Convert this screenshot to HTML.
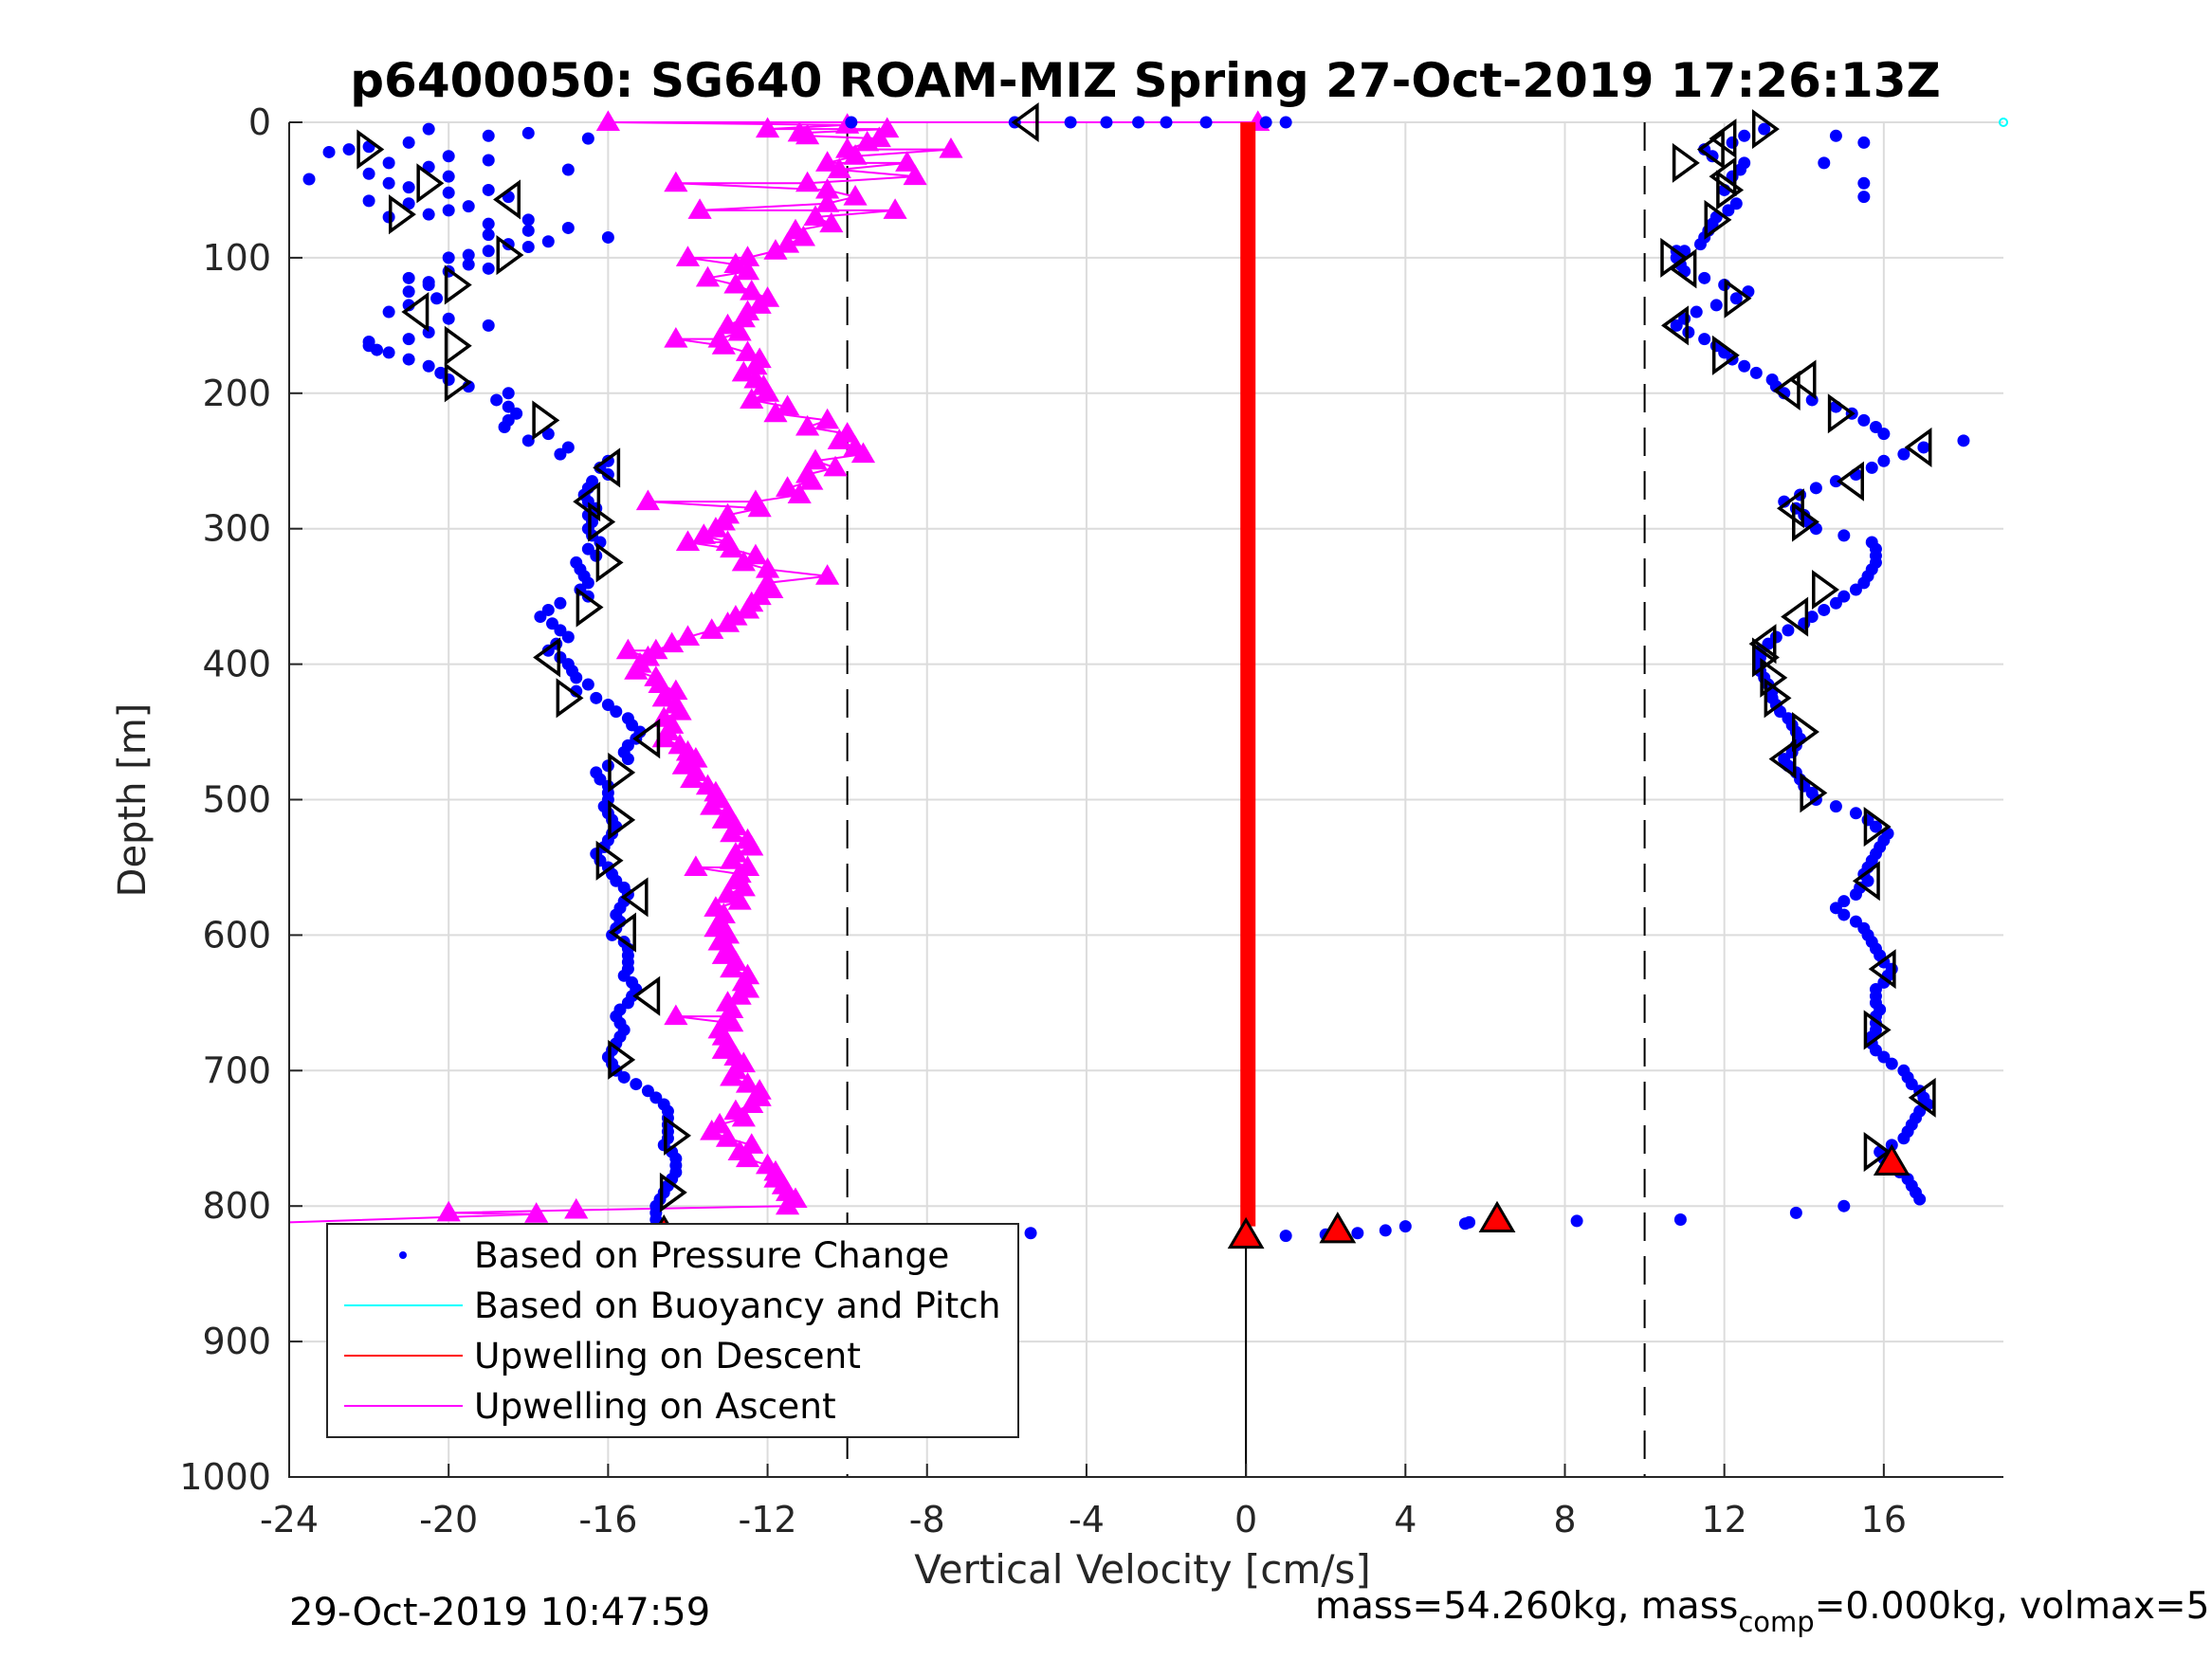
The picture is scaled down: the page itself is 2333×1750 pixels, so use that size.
<!DOCTYPE html>
<html><head><meta charset="utf-8"><style>
html,body{margin:0;padding:0;background:#fff;}
svg{display:block;font-family:"DejaVu Sans","Liberation Sans",sans-serif;}
</style></head><body>
<svg id="chart" width="2333" height="1750" viewBox="0 0 2333 1750" xmlns="http://www.w3.org/2000/svg">
<rect width="2333" height="1750" fill="#fff"/>
<g id="grid"></g>
<g id="marks"></g>
<g id="axes"></g>
<text x="1208" y="102" text-anchor="middle" font-size="50" font-weight="bold" fill="#000">p6400050: SG640 ROAM-MIZ Spring 27-Oct-2019 17:26:13Z</text>
<text x="1205" y="1670" text-anchor="middle" font-size="42" fill="#262626">Vertical Velocity [cm/s]</text>
<text x="0" y="0" transform="translate(153,844) rotate(-90)" text-anchor="middle" font-size="40" fill="#262626">Depth [m]</text>
<text x="305" y="1714" font-size="40" fill="#000">29-Oct-2019 10:47:59</text>
<text x="1387" y="1707" font-size="39" fill="#000">mass=54.260kg, mass<tspan font-size="29" dy="14">comp</tspan><tspan dy="-14">=0.000kg, volmax=52842cc</tspan></text>
<g id="legend">
<rect x="345" y="1291" width="729" height="225" fill="#fff" stroke="#262626" stroke-width="2"/>
<circle cx="425" cy="1324" r="4" fill="#0000ff"/>
<text x="500" y="1337" font-size="37.5" fill="#000">Based on Pressure Change</text>
<line x1="363" y1="1377" x2="488" y2="1377" stroke="#00ffff" stroke-width="2"/>
<text x="500" y="1390" font-size="37.5" fill="#000">Based on Buoyancy and Pitch</text>
<line x1="363" y1="1430" x2="488" y2="1430" stroke="#ff0000" stroke-width="2"/>
<text x="500" y="1443" font-size="37.5" fill="#000">Upwelling on Descent</text>
<line x1="363" y1="1483" x2="488" y2="1483" stroke="#ff00ff" stroke-width="2"/>
<text x="500" y="1496" font-size="37.5" fill="#000">Upwelling on Ascent</text>
</g>
</svg>
<script>
// ---- data ----
const xTicks = [-24,-20,-16,-12,-8,-4,0,4,8,12,16];
const yTicks = [0,100,200,300,400,500,600,700,800,900,1000];
const diveDepth = [0,0,0,0,0,0,0,0,0,5,10,15,20,25,30,35,40,45,50,55,60,65,70,75,80,85,90,95,100,105,110,115,120,130,140,150,160,165,170,180,190,200,210,220,230,240,250,260,270,280,290,300,310,320,330,340,350,360,370,380,390,400,410,420,430,440,450,460,470,480,490,500,510,520,530,540,550,560,570,580,590,600,610,620,630,640,650,660,670,680,690,700,710,720,730,740,750,760,770,780,790,800,810,815,820,820];
const diveVel = [-9.9,-5.8,-4.4,-3.5,-2.7,-2.0,-1.0,0.5,1.0,-20.5,-19,-21,-22.5,-20,-21.5,-17,-20,-21.5,-19,-18.5,-21,-20,-21.5,-19,-18,-16,-18.5,-19,-20,-19.5,-20,-21,-20.5,-20.3,-21.5,-19,-21,-22,-21.5,-20.5,-20,-18.5,-18.5,-18.5,-17.5,-17,-16,-16,-16.5,-16.5,-16.5,-16.5,-16.2,-16.3,-16.7,-16.5,-16.5,-17.5,-17.4,-17,-17.5,-17,-16.8,-16.8,-16,-15.5,-15.2,-15.5,-15.5,-16.3,-16,-16,-16,-15.8,-16,-16.3,-16,-15.8,-15.5,-15.7,-15.7,-15.9,-15.5,-15.5,-15.6,-15.3,-15.5,-15.8,-15.6,-15.8,-16,-15.8,-15.3,-14.8,-14.5,-14.5,-14.5,-14.4,-14.3,-14.4,-14.6,-14.8,-14.8,-14.6,-11.9,-5.4];
const diveExtraDepth = [8,12,18,22,28,33,38,42,48,52,58,62,68,72,78,83,88,92,98,108,118,125,135,145,155,162,168,175,185,195,205,215,225,235,245,255,265,275,285,295,305,315,325,335,345,355,365,375,385,395,405,415,425,435,445,455,465,475,485,495,505,515,525,535,545,555,565,575,585,595,605,615,625,635,645,655,665,675,685,695,705,715,725,735,745,755,765,775,785,795,805];
const diveExtraVel = [-18,-16.5,-22,-23,-19,-20.5,-22,-23.5,-21,-20,-22,-19.5,-20.5,-18,-17,-19,-17.5,-18,-19.5,-19,-20.5,-21,-21,-20,-20.5,-22,-21.8,-21,-20.2,-19.5,-18.8,-18.3,-18.6,-18,-17.2,-16.2,-16.4,-16.6,-16.3,-16.4,-16.4,-16.5,-16.8,-16.6,-16.7,-17.2,-17.7,-17.2,-17.3,-17.2,-16.9,-16.5,-16.3,-15.8,-15.4,-15.3,-15.6,-16,-16.2,-16,-16.1,-15.9,-15.9,-16.1,-16.2,-15.9,-15.6,-15.6,-15.8,-15.8,-15.6,-15.5,-15.5,-15.4,-15.4,-15.7,-15.7,-15.7,-15.9,-15.9,-15.6,-15,-14.6,-14.5,-14.5,-14.6,-14.3,-14.3,-14.5,-14.7,-14.8];
const climbDepth = [822,821,820,818,815,813,812,810,811,810,805,800,790,780,770,760,750,740,730,720,710,700,690,680,670,660,650,640,630,620,610,600,590,580,570,560,550,540,530,520,510,500,490,480,470,460,450,440,430,420,410,400,390,380,370,360,350,340,330,320,310,300,290,280,270,260,250,240,235,230,220,210,200,190,180,170,160,150,140,130,120,110,100,95,90,80,70,60,50,40,30,20,10,5,10,15,30,45,55,95];
const climbVel = [1.0,2.0,2.8,3.5,4.0,5.5,5.6,6.3,8.3,10.9,13.8,15,16.8,16.6,16.2,15.9,16.5,16.7,16.9,17,16.7,16.5,16,15.7,15.8,15.8,15.8,15.8,16.1,16,15.8,15.6,15.3,14.8,15.3,15.6,15.6,15.8,16,15.8,15.3,14.3,14,13.8,13.5,13.8,13.8,13.6,13.3,13.2,13,12.9,12.9,13.3,14,14.5,15,15.5,15.7,15.8,15.7,14.3,14,13.5,14.3,15.3,16,17,18,16,15.5,14.8,13.5,13.2,12.5,12,11.5,10.8,11.3,12.3,12,11,10.8,11,11.4,11.6,11.8,12.3,12,12.2,12.5,11.5,12.5,13,14.8,15.5,14.5,15.5,15.5,10.8];
const climbExtraDepth = [795,785,775,765,755,745,735,725,715,705,695,685,675,665,655,645,635,625,615,605,595,585,575,565,555,545,535,525,515,505,495,485,475,465,455,445,435,425,415,405,395,385,375,365,355,345,335,325,315,305,295,285,275,265,255,245,225,215,205,195,185,175,165,155,145,135,125,115,105,85,75,65,35,25,15];
const climbExtraVel = [16.9,16.7,16.4,16,16.2,16.6,16.8,17.1,16.9,16.6,16.2,15.8,15.7,15.8,15.9,15.8,16,16.2,15.9,15.7,15.5,15,15,15.4,15.5,15.7,15.9,16.1,15.6,14.8,14.2,13.9,13.6,13.7,13.9,13.7,13.4,13.2,13.1,12.9,12.9,13.1,13.6,14.2,14.8,15.3,15.6,15.8,15.8,15,14.1,13.8,13.9,14.8,15.7,16.5,15.8,15.2,14.2,13.3,12.8,12.2,11.8,11.1,11,11.8,12.6,11.5,10.9,11.5,11.7,12.1,12.4,11.7,12.2];
const ascDepth = [812,806,805,803,800,790,780,770,760,750,740,730,720,710,700,690,680,670,660,660,650,640,630,620,610,600,590,580,570,560,550,550,540,530,520,510,500,490,480,470,460,450,440,430,420,410,400,390,390,380,370,360,350,340,335,330,320,310,310,300,290,280,280,270,260,250,240,230,220,210,200,190,180,170,160,160,150,140,130,120,115,110,100,100,90,80,70,65,65,60,55,50,45,45,40,30,30,20,20,15,10,5,5,2,0,0];
const ascVel = [-24,-17.8,-20,-16.8,-11.5,-11.5,-11.8,-12,-12.7,-13,-13.2,-12.8,-12.2,-12.5,-12.8,-12.8,-13,-13.2,-14.3,-13,-13,-12.5,-12.5,-12.8,-13,-13,-13.2,-13.3,-13,-12.8,-13.8,-12.5,-12.8,-12.5,-12.8,-13,-13.2,-13.5,-13.8,-13.8,-14.2,-14.5,-14.6,-14.3,-14.3,-14.8,-15.2,-15.5,-14.8,-14,-13,-12.5,-12.2,-12,-10.5,-12,-12.3,-14,-13,-13.3,-13,-15,-12.3,-11.5,-11,-10.8,-9.8,-10,-10.5,-11.5,-12,-12.3,-12.3,-12.5,-14.3,-13.2,-13,-12.5,-12,-12.8,-13.5,-12.5,-14,-12.5,-11.5,-11.3,-10.8,-8.8,-13.7,-10.5,-9.8,-10.5,-14.3,-11,-8.3,-8.5,-10.5,-7.4,-10,-9.5,-11,-9,-12,-10,-16,0.3];
const ascExtraDepth = [795,785,775,765,755,745,735,725,715,705,695,685,675,665,655,645,635,625,615,605,595,585,575,565,555,545,535,525,515,505,495,485,475,465,455,445,435,425,415,405,395,385,375,365,355,345,325,315,305,295,285,275,265,255,245,235,225,215,205,195,185,175,165,155,145,135,125,105,95,85,75,35,25,12,8];
const ascExtraVel = [-11.3,-11.6,-11.8,-12.5,-12.4,-13.4,-12.6,-12.4,-12.2,-12.9,-12.6,-13.1,-13.1,-12.9,-12.9,-12.7,-12.6,-12.9,-13.1,-13.2,-13.3,-13.1,-12.7,-12.6,-12.7,-12.9,-12.4,-12.9,-13.1,-13.4,-13.3,-13.9,-14.1,-14,-14.6,-14.4,-14.2,-14.6,-14.7,-15.3,-15,-14.4,-13.4,-12.8,-12.4,-11.9,-12.6,-12.9,-13.6,-13.1,-12.2,-11.2,-10.9,-10.3,-9.6,-10.2,-11,-11.8,-12.4,-12.1,-12.6,-12.2,-13.1,-12.7,-12.6,-12.2,-12.4,-12.8,-11.8,-11.1,-10.4,-10.2,-9.8,-9.2,-11.2];
const redDepth = [0,50,100,150,200,250,300,350,400,450,500,550,600,650,700,750,800,815];
const redVel = [0.05,0.05,0.05,0.05,0.05,0.05,0.05,0.05,0.05,0.05,0.05,0.05,0.05,0.05,0.05,0.05,0.05,0.05];
const triDepth = [0,20,45,57,68,98,120,140,165,192,220,255,280,295,325,358,395,425,455,480,515,545,572,598,645,692,748,790,5,12,20,30,40,50,72,100,108,130,150,172,190,198,215,240,265,285,295,345,365,385,395,410,425,450,470,495,520,560,625,670,720,760];
const triVel = [-5.5,-22,-20.5,-18.5,-21.2,-18.5,-19.8,-20.8,-19.8,-19.8,-17.6,-16,-16.5,-16.2,-16,-16.5,-17.5,-17,-15,-15.7,-15.7,-16,-15.3,-15.6,-15,-15.7,-14.3,-14.4,13,12,11.7,11,12,12.1,11.8,10.7,11,12.3,10.8,12,14,13.6,14.9,16.9,15.2,13.7,14,14.5,13.8,13,13,13.2,13.3,14,13.5,14.2,15.8,15.6,16,15.8,17,15.8];
const triDir = ['L','R','R','L','R','R','R','L','R','R','R','L','L','R','R','R','L','R','L','R','R','R','L','L','L','R','R','R','R','L','L','R','L','R','R','R','L','R','L','R','L','L','R','L','L','L','R','R','L','L','R','R','R','R','L','R','R','L','L','R','L','R'];
const redTriDepth = [820,822,818,810,768];
const redTriVel = [-14.6,0,2.3,6.3,16.2];

// ---- axes ----
const X0=305, X1=2113, Y0=129, Y1=1558, XMIN=-24, XMAX=19, YMAX=1000;
const sx = v => X0 + (v - XMIN) / (XMAX - XMIN) * (X1 - X0);
const sy = d => Y0 + d / YMAX * (Y1 - Y0);
const NS='http://www.w3.org/2000/svg';
function mk(tag, attrs, parent){const e=document.createElementNS(NS,tag);for(const k in attrs)e.setAttribute(k,attrs[k]);parent.appendChild(e);return e;}
const grid=document.getElementById('grid'), marks=document.getElementById('marks'), axes=document.getElementById('axes');

xTicks.forEach(t=>{
  const l=mk('line',{x1:sx(t),x2:sx(t),y1:Y0,y2:Y1,stroke:'#dcdcdc','stroke-width':2},grid);
  
  
  const tk=mk('line',{x1:sx(t),x2:sx(t),y1:Y1,y2:Y1-14,stroke:'#262626','stroke-width':2},axes);
  
  
  const tx=mk('text',{x:sx(t),y:1616,'text-anchor':'middle','font-size':38,fill:'#262626'},axes);
  tx.textContent=String(t);
  
  
});
yTicks.forEach(t=>{
  const l=mk('line',{x1:X0,x2:X1,y1:sy(t),y2:sy(t),stroke:'#dcdcdc','stroke-width':2},grid);
  
  
  const tk=mk('line',{x1:X0,x2:X0+14,y1:sy(t),y2:sy(t),stroke:'#262626','stroke-width':2},axes);
  
  
  const tx=mk('text',{x:286,y:sy(t)+13,'text-anchor':'end','font-size':38,fill:'#262626'},axes);
  tx.textContent=String(t);
  
  
});
const ax=mk('path',{d:`M${X0},${Y0} V${Y1} H${X1}`,fill:'none',stroke:'#262626','stroke-width':2},axes);



[-10,10].forEach(v=>{
  const l=mk('line',{x1:sx(v),x2:sx(v),y1:Y0,y2:Y1,stroke:'#000','stroke-width':2,'stroke-dasharray':'30,16'},marks);
  
  
});
const zl=mk('line',{x1:sx(0),x2:sx(0),y1:sy(815),y2:Y1,stroke:'#000','stroke-width':2},marks);



function tri(cx,cy,dir,s){
  if(dir==='L') return `${cx-s*0.6},${cy} ${cx+s*0.5},${cy-s*0.8} ${cx+s*0.5},${cy+s*0.8}`;
  if(dir==='R') return `${cx+s*0.6},${cy} ${cx-s*0.5},${cy-s*0.8} ${cx-s*0.5},${cy+s*0.8}`;
  return `${cx},${cy-s*0.7} ${cx-s*0.7},${cy+s*0.5} ${cx+s*0.7},${cy+s*0.5}`;
}

// ascent magenta: merge main + extra sorted by depth (descending)
const ascAll = ascDepth.map((d,i)=>[d,ascVel[i]]).concat(ascExtraDepth.map((d,i)=>[d,ascExtraVel[i]]));
ascAll.sort((a,b)=>b[0]-a[0]);
const ap=mk('polyline',{points:ascAll.map(p=>sx(Math.max(XMIN,p[1]))+','+sy(p[0])).join(' '),fill:'none',stroke:'#ff00ff','stroke-width':2},marks);


ascAll.forEach(p=>{
  if(p[1]<=XMIN) return;
  const t=mk('polygon',{points:tri(sx(p[1]),sy(p[0]),'U',18),fill:'#ff00ff'},marks);
  
  
});

// descent red
const rp=mk('polyline',{points:redDepth.map((d,i)=>sx(redVel[i])+','+sy(d)).join(' '),fill:'none',stroke:'#ff0000','stroke-width':16},marks);



// blue points
function dots(ds,vs,name){
  ds.forEach((d,i)=>{
    const c=mk('circle',{cx:sx(vs[i]),cy:sy(d),r:6.5,fill:'#0000ff'},marks);
    
    
  });
}
dots(diveDepth,diveVel,'dive-pressure-point');
dots(diveExtraDepth,diveExtraVel,'dive-pressure-point');
dots(climbDepth,climbVel,'climb-pressure-point');
dots(climbExtraDepth,climbExtraVel,'climb-pressure-point');

triDepth.forEach((d,i)=>{
  const p=mk('polygon',{points:tri(sx(triVel[i]),sy(d),triDir[i],22),fill:'none',stroke:'#000','stroke-width':3.5},marks);
  
  
});
redTriDepth.forEach((d,i)=>{
  const p=mk('polygon',{points:tri(sx(redTriVel[i]),sy(d),'U',24),fill:'#ff0000',stroke:'#000','stroke-width':3},marks);
  
  
});

const cy=mk('circle',{cx:sx(19),cy:sy(0),r:4,fill:'none',stroke:'#00ffff','stroke-width':2},marks);


</script>
</body></html>
